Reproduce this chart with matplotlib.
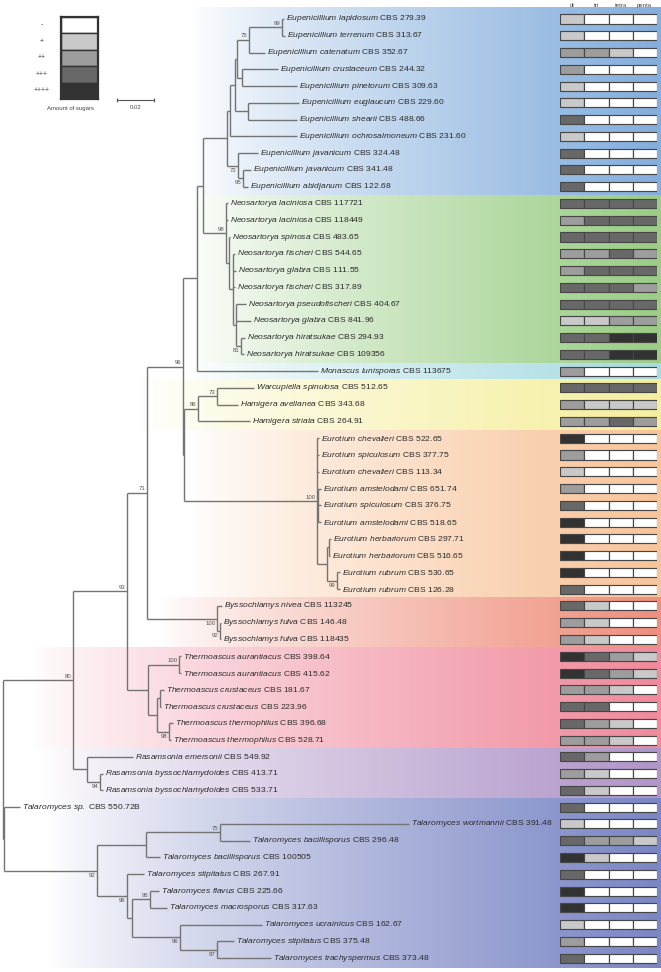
import re

import numpy as np
import matplotlib
matplotlib.use("Agg")
import matplotlib.pyplot as plt
from matplotlib.colors import to_rgb

plt.rcParams["font.family"] = ["Liberation Sans", "DejaVu Sans"]
plt.rcParams["mathtext.fontset"] = "custom"
plt.rcParams["mathtext.rm"] = "Liberation Sans"
plt.rcParams["mathtext.it"] = "Liberation Sans:italic"

# -------------------------------------------------------
# Data
# -------------------------------------------------------
TAXA = [
    "Eupenicillium lapidosum CBS 279.39",
    "Eupenicillium terrenum CBS 313.67",
    "Eupenicillium catenatum CBS 352.67",
    "Eupenicillium crustaceum CBS 244.32",
    "Eupenicillium pinetorum CBS 309.63",
    "Eupenicillium euglaucum CBS 229.60",
    "Eupenicillium shearii CBS 488.66",
    "Eupenicillium ochrosalmoneum CBS 231.60",
    "Eupenicillium javanicum CBS 324.48",
    "Eupenicillium javanicum CBS 341.48",
    "Eupenicillium abidjanum CBS 122.68",
    "Neosartorya laciniosa CBS 117721",
    "Neosartorya laciniosa CBS 118449",
    "Neosartorya spinosa CBS 483.65",
    "Neosartorya fischeri CBS 544.65",
    "Neosartorya glabra CBS 111.55",
    "Neosartorya fischeri CBS 317.89",
    "Neosartorya pseudofischeri CBS 404.67",
    "Neosartorya glabra CBS 841.96",
    "Neosartorya hiratsukae CBS 294.93",
    "Neosartorya hiratsukae CBS 109356",
    "Monascus lunisporas CBS 113675",
    "Warcupiella spinulosa CBS 512.65",
    "Hamigera avellanea CBS 343.68",
    "Hamigera striata CBS 264.91",
    "Eurotium chevalieri CBS 522.65",
    "Eurotium spiculosum CBS 377.75",
    "Eurotium chevalieri CBS 113.34",
    "Eurotium amstelodami CBS 651.74",
    "Eurotium spiculosum CBS 376.75",
    "Eurotium amstelodami CBS 518.65",
    "Eurotium herbariorum CBS 297.71",
    "Eurotium herbariorum CBS 516.65",
    "Eurotium rubrum CBS 530.65",
    "Eurotium rubrum CBS 126.28",
    "Byssochlamys nivea CBS 113245",
    "Byssochlamys fulva CBS 146.48",
    "Byssochlamys fulva CBS 118435",
    "Thermoascus aurantiacus CBS 398.64",
    "Thermoascus aurantiacus CBS 415.62",
    "Thermoascus crustaceus CBS 181.67",
    "Thermoascus crustaceus CBS 223.96",
    "Thermoascus thermophilus CBS 396.68",
    "Thermoascus thermophilus CBS 528.71",
    "Rasamsonia emersonii CBS 549.92",
    "Rasamsonia byssochlamydoides CBS 413.71",
    "Rasamsonia byssochlamydoides CBS 533.71",
    "Talaromyces sp. CBS 550.72B",
    "Talaromyces wortmannii CBS 391.48",
    "Talaromyces bacillisporus CBS 296.48",
    "Talaromyces bacillisporus CBS 100505",
    "Talaromyces stipitatus CBS 267.91",
    "Talaromyces flavus CBS 225.66",
    "Talaromyces macrosporus CBS 317.63",
    "Talaromyces ucrainicus CBS 162.67",
    "Talaromyces stipitatus CBS 375.48",
    "Talaromyces trachyspermus CBS 373.48",
]

# leaves are indices into TAXA, internal labels are bootstrap values
# ("_" = value printed under the node)
TREE = (
    "((((("
    "((((((((0:0.0011,1:0.0016)99:0.0178,2:0.0086)75:0.0065,"
    "(3:0.0195,4:0.0297):0.0027):0.0011,(5:0.0276,6:0.0265):0.0070):0.0027,"
    "7:0.0362):0.0016,(8:0.0108,(9:0.0043,10:0.0027)95_:0.0027)72_:0.0059):0.0130,"
    "(11:0.0011,12:0.0011,(13:0.0005,(14:0.0011,15:0.0016,16:0.0011,"
    "(17:0.0054,18:0.0081,(19:0.0022,20:0.0016)81_:0.0027):0.0016):0.0022)"
    ":0.0016)98:0.0124):0.0032,21:0.0654):0.0076,"
    "(((22:0.0200,23:0.0114)73:0.0103,24:0.0281)86:0.0076,"
    "(25:0.0011,26:0.0011,27:0.0011,(28:0.0016,29:0.0016,30:0.0016):0.0005,"
    "((31:0.0011,32:0.0005):0.0011,(33:0.0016,34:0.0016)99_:0.0054):0.0054)"
    "100:0.0719):0.0005)96:0.0195,"
    "(35:0.0027,(36:0.0005,37:0.0005)92_:0.0016)100_:0.0378)71:0.0108,"
    "((38:0.0011,39:0.0011)100:0.0168,((40:0.0022,41:0.0005):0.0016,"
    "(42:0.0022,43:0.0011)98_:0.0065):0.0049):0.0114)93:0.0292,"
    "(44:0.0249,(45:0.0016,46:0.0016)94_:0.0070):0.0076)80:0.0378,"
    "(47:0.0086,(((48:0.1022,49:0.0162)75:0.0400,50:0.0076):0.0265,"
    "(51:0.0092,((52:0.0049,53:0.0092)95:0.0097,(54:0.0443,"
    "(55:0.0092,56:0.0292)87_:0.0200)96_:0.0259):0.0027)96_:0.0162)"
    "92_:0.0503):0.0005);"
)

# amount of sugars: 0 = -, 1 = +, 2 = ++, 3 = +++, 4 = ++++
DI = [1, 1, 2, 2, 1, 1, 3, 1, 3, 3, 3,
      3, 2, 3, 2, 2, 3, 3, 1, 3, 3,
      2,
      3, 2, 2,
      4, 2, 1, 2, 3, 4, 4, 4, 4, 3,
      3, 2, 2,
      4, 4, 2, 3, 3, 2,
      3, 2, 3,
      3, 1, 3, 4, 3, 4, 4, 1, 2, 3]
TRI = [0, 0, 2, 0, 0, 0, 0, 0, 0, 0, 0,
       3, 3, 3, 2, 3, 3, 3, 1, 3, 3,
       0,
       3, 1, 2,
       0, 0, 0, 0, 0, 0, 0, 0, 0, 0,
       1, 1, 1,
       3, 3, 2, 3, 2, 2,
       2, 1, 1,
       0, 0, 2, 1, 0, 0, 0, 0, 0, 0]
TETRA = [0, 0, 1, 0, 0, 0, 0, 0, 0, 0, 0,
         3, 3, 3, 3, 3, 3, 3, 2, 4, 4,
         0,
         3, 1, 3,
         0, 0, 0, 0, 0, 0, 0, 0, 0, 0,
         0, 0, 0,
         2, 2, 1, 0, 1, 1,
         0, 0, 0,
         0, 0, 2, 0, 0, 0, 0, 0, 0, 0]
PENTA = [0, 0, 0, 0, 0, 0, 0, 0, 0, 0, 0,
         3, 3, 3, 2, 3, 2, 3, 2, 4, 4,
         0,
         3, 1, 2,
         0, 0, 0, 0, 0, 0, 0, 0, 0, 0,
         0, 0, 0,
         1, 1, 0, 0, 0, 0,
         0, 0, 0,
         0, 0, 1, 0, 0, 0, 0, 0, 0, 0]
SUGAR_COLUMNS = ["di", "tri", "tetra", "penta"]
LEVEL_LABELS = ["-", "+", "++", "+++", "++++"]

# clade bands: first leaf, last leaf
CLADE_FIRST = [0, 11, 21, 22, 25, 35, 38, 44, 47]
CLADE_LAST = [10, 20, 21, 24, 34, 37, 43, 46, 56]

SCALE_BAR = 0.02

# -------------------------------------------------------
# Style / layout
# -------------------------------------------------------
W, H = 661, 972
PX_PER_UNIT = 1850.0
ROOT_PX = 3
ROW0_PX, ROW_PX = 19, 16.77
LEVEL_COLORS = ["#ffffff", "#c9c9c9", "#9d9d9d", "#686868", "#323232"]
CLADE_COLORS = ["#84aedd", "#9acd85", "#a6dbe2", "#f5ef9d", "#f8c49a",
                "#ef8f7d", "#f08a9c", "#b096c9", "#7b86c5"]
CLADE_FADE_PX = [190, 190, 190, 140, 190, 160, 30, 40, 50]
LINE_COL = "#747474"
TEXT_COL = "#2b2b2b"


def px_x(px):
    return (px - ROOT_PX) / PX_PER_UNIT


def px_y(py):
    return (py - ROW0_PX) / ROW_PX


# -------------------------------------------------------
# Newick helpers
# -------------------------------------------------------
def parse(tokens, i=0):
    node = {"children": [], "label": "", "length": 0.0}
    if tokens[i] == "(":
        i += 1
        while True:
            child, i = parse(tokens, i)
            node["children"].append(child)
            if tokens[i] == ",":
                i += 1
                continue
            i += 1
            break
    if i < len(tokens) and tokens[i] not in {"(", ")", ",", ";"}:
        lab, _, ln = tokens[i].partition(":")
        node["label"] = lab
        node["length"] = float(ln) if ln else 0.0
        i += 1
    return node, i


def layout(node, x0=0.0):
    node["x"] = x0 + node["length"]
    if node["children"]:
        for c in node["children"]:
            layout(c, node["x"])
        node["y"] = (node["children"][0]["y"] + node["children"][-1]["y"]) / 2
    else:
        node["y"] = int(node["label"])


tokens = re.findall(r"\(|\)|,|;|[^(),;]+", TREE)
root, _ = parse(tokens)
layout(root)

fig = plt.figure(figsize=(W / 100, H / 100), dpi=100)
ax = fig.add_axes([0, 0, 1, 1])
xlim = (px_x(0), px_x(W))
ylim = (px_y(H), px_y(0))

# -------------------------------------------------------
# Clade colour bands (white -> colour)
# -------------------------------------------------------
for k, (a, b) in enumerate(zip(CLADE_FIRST, CLADE_LAST)):
    top = a - 0.5 if a > 0 else px_y(8)
    bot = b + 0.5 if b < len(TAXA) - 1 else px_y(968)
    t = np.linspace(0, 1, 256) ** 0.8
    col = np.array(to_rgb(CLADE_COLORS[k]))
    grad = (1 - t)[:, None] * np.ones(3) + t[:, None] * col
    ax.imshow(grad[None, :, :], extent=(px_x(CLADE_FADE_PX[k]), xlim[1], bot, top),
              aspect="auto", zorder=0, interpolation="bilinear")


# -------------------------------------------------------
# Tree
# -------------------------------------------------------
def draw(node):
    kids = node["children"]
    for c in kids:
        ax.plot([node["x"], c["x"]], [c["y"], c["y"]], color=LINE_COL,
                lw=1.0, solid_capstyle="butt", zorder=2)
        draw(c)
    if kids:
        ys = [c["y"] for c in kids]
        ax.plot([node["x"], node["x"]], [min(ys), max(ys)], color=LINE_COL,
                lw=1.0, solid_capstyle="butt", zorder=2)
        if node["label"]:
            below = node["label"].endswith("_")
            ax.annotate(node["label"].rstrip("_"), (node["x"], node["y"]),
                        xytext=(-1.5, -2 if below else 1.5),
                        textcoords="offset pixels", ha="right",
                        va="top" if below else "bottom",
                        fontsize=4.3, color="#555555", zorder=3)
    else:
        name = TAXA[int(node["label"])]
        species, strain = name.split(" CBS ")
        txt = "$\\mathit{" + species.replace(" ", "\\ ") + "}$ CBS " + strain
        ax.annotate(txt, (node["x"], node["y"]), xytext=(2, 0),
                    textcoords="offset pixels", ha="left", va="center",
                    fontsize=6.1, color=TEXT_COL, zorder=3)


draw(root)

# scale bar
sb_y = px_y(100)
sb_x0 = px_x(117)
ax.plot([sb_x0, sb_x0 + SCALE_BAR], [sb_y, sb_y], color="#555555", lw=0.8)
ax.plot([sb_x0, sb_x0 + SCALE_BAR], [sb_y, sb_y], color="#555555", lw=0,
        marker="|", markersize=3.5, markeredgewidth=0.8)
ax.text(sb_x0 + SCALE_BAR / 2, px_y(108), f"{SCALE_BAR:.2f}", ha="center",
        va="center", fontsize=4.3, color="#444444")

ax.set_xlim(*xlim)
ax.set_ylim(*ylim)
ax.axis("off")

# -------------------------------------------------------
# Sugar heat map
# -------------------------------------------------------
hx = fig.add_axes([560 / W, 0, 97 / W, 1])
hx.patch.set_alpha(0)
rows = np.arange(len(TAXA))
for j, vals in enumerate([DI, TRI, TETRA, PENTA]):
    hx.barh(rows, 1, left=j, height=0.54, color=[LEVEL_COLORS[v] for v in vals],
            edgecolor="#474747", linewidth=0.85, zorder=2)
    hx.text(j + 0.5, px_y(6), SUGAR_COLUMNS[j], ha="center", va="center",
            fontsize=4.3, color="#444444")
hx.set_xlim(-0.02, 4.02)
hx.set_ylim(*ylim)
hx.axis("off")

# -------------------------------------------------------
# Legend
# -------------------------------------------------------
lx = fig.add_axes([61 / W, 1 - 99 / H, 37 / W, 82 / H])
lx.barh(range(5), 1, left=0, height=1, color=LEVEL_COLORS, edgecolor="#333333",
        linewidth=1.0)
for i, lab in enumerate(LEVEL_LABELS):
    lx.text(-0.52, i, lab, ha="center", va="center", fontsize=5,
            color="#444444")
lx.text(0.27, 5.05, "Amount of sugars", ha="center", va="center",
        fontsize=4.3, color="#444444")
lx.set_xlim(0, 1)
lx.set_ylim(4.5, -0.5)
for s in lx.spines.values():
    s.set_linewidth(1.6)
    s.set_color("#333333")
lx.set_xticks([])
lx.set_yticks([])

fig.savefig("out.png", dpi=100)
